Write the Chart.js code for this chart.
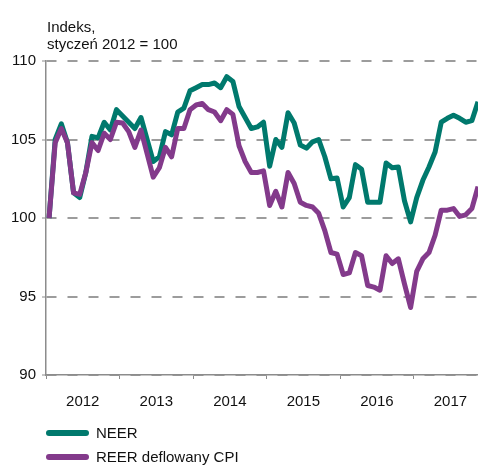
<!DOCTYPE html>
<html lang="pl">
<head>
<meta charset="utf-8">
<title>NEER i REER</title>
<script src="https://cdn.jsdelivr.net/npm/chart.js@4.4.1/dist/chart.umd.min.js"></script>
<style>
  html, body { margin: 0; padding: 0; background: #fff; }
  #wrap { width: 478px; height: 465px; position: relative; }
</style>
</head>
<body>
<div id="wrap"><canvas id="chart" width="478" height="465"></canvas></div>
<script>
// Monthly index values, January 2012 = 100 (Jan 2012 .. Nov 2017)
const years = ['2012', '2013', '2014', '2015', '2016', '2017'];

const neer = [
  100.0, 105.0, 106.0, 104.8, 101.6, 101.3, 102.9, 105.2, 105.1, 106.1, 105.6, 106.9,
  106.5, 106.1, 105.7, 106.4, 105.0, 103.6, 103.9, 105.5, 105.3, 106.75, 107.0, 108.1,
  108.3, 108.5, 108.5, 108.6, 108.3, 109.0, 108.7, 107.1, 106.4, 105.7, 105.8, 106.1,
  103.3, 105.0, 104.5, 106.7, 106.05, 104.65, 104.45, 104.85, 105.0, 103.9, 102.5, 102.55,
  100.7, 101.3, 103.4, 103.1, 101.0, 101.0, 101.0, 103.5, 103.2, 103.25, 101.1, 99.75,
  101.3, 102.4, 103.25, 104.2, 106.1, 106.35, 106.55, 106.35, 106.1, 106.2, 107.4
];

const reerCpi = [
  100.0, 104.8, 105.7, 104.8, 101.6, 101.5, 102.9, 104.8, 104.3, 105.4, 105.0, 106.1,
  106.05, 105.5, 104.5, 105.6, 104.1, 102.6, 103.2, 104.5, 103.9, 105.7, 105.7, 106.9,
  107.2, 107.3, 106.9, 106.75, 106.2, 106.9, 106.6, 104.6, 103.6, 102.9, 102.9, 103.0,
  100.8, 101.7, 100.7, 102.9, 102.2, 101.0, 100.8, 100.7, 100.3, 99.2, 97.8, 97.7,
  96.4, 96.5, 97.8, 97.6, 95.7, 95.6, 95.4, 97.6, 97.1, 97.4, 95.8, 94.3,
  96.6, 97.4, 97.8, 98.9, 100.5, 100.5, 100.6, 100.1, 100.2, 100.6, 102.0
];

const seriesNames = ['NEER', 'REER deflowany CPI'];
const titleLines = ['Indeks,', 'styczeń 2012 = 100'];
const yTicks = [90, 95, 100, 105, 110];

const FONT = '"Liberation Sans", Arial, Helvetica, sans-serif';
const GREEN = '#00796d';
const PURPLE = '#833a8b';
const AXIS = '#8c8c8c';

const toPoints = arr => arr.map((v, i) => ({ x: i, y: v }));

// Year boundaries carry tick marks, mid-year positions carry the labels
const boundaries = years.map((_, k) => k * 12 - 0.5);
const centers = years.map((_, k) => k * 12 + 5.5);
const isCenter = v => centers.some(c => Math.abs(c - v) < 1e-6);

const headerAndLegend = {
  id: 'headerAndLegend',
  afterDraw(chart) {
    const ctx = chart.ctx;
    ctx.save();
    ctx.fillStyle = '#111';
    ctx.font = '15px ' + FONT;
    ctx.textAlign = 'left';
    ctx.textBaseline = 'alphabetic';
    ctx.fillText(titleLines[0], 47, 32);
    ctx.fillText(titleLines[1], 47, 49);

    const rows = [433, 457];
    chart.data.datasets.forEach((ds, i) => {
      const y = rows[i];
      ctx.strokeStyle = ds.borderColor;
      ctx.lineWidth = 6;
      ctx.lineCap = 'round';
      ctx.beginPath();
      ctx.moveTo(49, y);
      ctx.lineTo(86, y);
      ctx.stroke();
      ctx.fillStyle = '#111';
      ctx.textBaseline = 'middle';
      ctx.fillText(ds.label, 96, y + 1);
    });
    ctx.restore();
  }
};

new Chart(document.getElementById('chart'), {
  type: 'line',
  data: {
    datasets: [
      {
        label: seriesNames[0],
        data: toPoints(neer),
        borderColor: GREEN,
        backgroundColor: GREEN,
        borderWidth: 5,
        pointRadius: 0,
        tension: 0,
        borderJoinStyle: 'round',
        order: 2
      },
      {
        label: seriesNames[1],
        data: toPoints(reerCpi),
        borderColor: PURPLE,
        backgroundColor: PURPLE,
        borderWidth: 5,
        pointRadius: 0,
        tension: 0,
        borderJoinStyle: 'round',
        order: 1
      }
    ]
  },
  options: {
    responsive: false,
    animation: false,
    devicePixelRatio: 1,
    layout: { padding: { top: 61, right: 0, bottom: 50, left: 0 } },
    plugins: {
      legend: { display: false },
      tooltip: { enabled: false },
      title: { display: false }
    },
    scales: {
      x: {
        type: 'linear',
        min: -0.5,
        max: 70,
        afterBuildTicks(scale) {
          scale.ticks = boundaries.concat(centers)
            .sort((a, b) => a - b)
            .map(v => ({ value: v }));
        },
        afterFit(scale) {
          scale.height = 40;
          scale.paddingLeft = 0;
          scale.paddingRight = 0;
        },
        ticks: {
          autoSkip: false,
          maxRotation: 0,
          padding: 14,
          color: '#111',
          font: { family: FONT, size: 15 },
          callback(value) {
            if (!isCenter(value)) return '';
            return years[Math.round((value - 5.5) / 12)];
          }
        },
        grid: {
          drawOnChartArea: false,
          drawTicks: true,
          tickLength: 4,
          tickWidth: 1,
          tickColor: ctx => (ctx.tick && isCenter(ctx.tick.value)) ? 'rgba(0,0,0,0)' : AXIS
        },
        border: { display: true, color: AXIS, width: 1.5 }
      },
      y: {
        min: 90,
        max: 110,
        afterBuildTicks(scale) {
          scale.ticks = yTicks.map(v => ({ value: v }));
        },
        afterFit(scale) {
          scale.width = 46;
          scale.paddingTop = 0;
          scale.paddingBottom = 0;
        },
        ticks: {
          padding: 6,
          color: '#111',
          font: { family: FONT, size: 15 }
        },
        grid: {
          color: '#9c9c9c',
          lineWidth: 2,
          drawTicks: true,
          tickLength: 4,
          tickWidth: 1,
          tickColor: AXIS,
          tickBorderDash: []
        },
        border: { display: true, color: AXIS, width: 1.5, dash: [10, 11] }
      }
    }
  },
  plugins: [headerAndLegend]
});
</script>
</body>
</html>
